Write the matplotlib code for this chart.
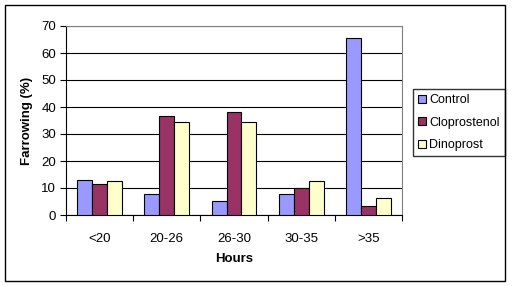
import matplotlib
matplotlib.use('Agg')
import matplotlib.pyplot as plt
from matplotlib.patches import Rectangle
import numpy as np

plt.rcParams['font.family'] = ['Liberation Sans', 'DejaVu Sans']

categories = ['<20', '20-26', '26-30', '30-35', '>35']
control = [12.9, 7.6, 5.1, 7.6, 65.4]
cloprostenol = [11.4, 36.5, 38.0, 9.9, 3.2]
dinoprost = [12.5, 34.3, 34.3, 12.5, 6.2]

series = [('Control', control, '#9999ff'),
          ('Cloprostenol', cloprostenol, '#993366'),
          ('Dinoprost', dinoprost, '#ffffcc')]

W, H = 515, 286
fig = plt.figure(figsize=(W / 100, H / 100), dpi=100)
fig.patch.set_facecolor('white')
# outer chart border
fig.patches.append(Rectangle((5 / W, 1 - 281 / H), 500 / W, 276 / H,
                             transform=fig.transFigure, fill=False,
                             edgecolor='black', linewidth=1))

ax = fig.add_axes([66 / W, 1 - 215 / H, 336 / W, 189 / H])

x = np.arange(len(categories))
bw = 0.222
for i, (name, vals, col) in enumerate(series):
    ax.bar(x + (i - 1) * bw, vals, bw, color=col, edgecolor='black',
           linewidth=0.8, label=name, zorder=3)

ax.set_xlim(-0.5, len(categories) - 0.5)
ax.set_ylim(0, 70)
ax.set_yticks(range(0, 71, 10))
ax.yaxis.grid(True, color='black', linewidth=0.8, zorder=0)
ax.set_axisbelow(True)

ax.set_xticks(x)
ax.set_xticklabels(categories)
ax.set_xticks(np.arange(-0.5, len(categories), 1), minor=True)
ax.tick_params(axis='x', which='major', length=0, pad=13, labelsize=9.5)
ax.tick_params(axis='x', which='minor', length=4, width=0.8, direction='out')
ax.tick_params(axis='y', length=4, width=0.8, direction='out', labelsize=9.5, pad=3)

for s in ['top', 'right']:
    ax.spines[s].set_color('#808080')
for s in ['left', 'bottom']:
    ax.spines[s].set_color('black')

ax.set_ylabel('Farrowing (%)', fontweight='bold', fontsize=9.5, labelpad=6)
ax.set_xlabel('Hours', fontweight='bold', fontsize=9.5, labelpad=6)

leg = ax.legend(loc='upper left', bbox_to_anchor=(413 / W, 1 - 89 / H),
                bbox_transform=fig.transFigure, frameon=True, fancybox=False,
                fontsize=9, handlelength=0.6, handleheight=0.6,
                handletextpad=0.3, borderpad=0.4, labelspacing=0.85,
                borderaxespad=0)
leg.get_frame().set_edgecolor('black')
leg.get_frame().set_linewidth(1)

fig.savefig('out.png', dpi=100)
